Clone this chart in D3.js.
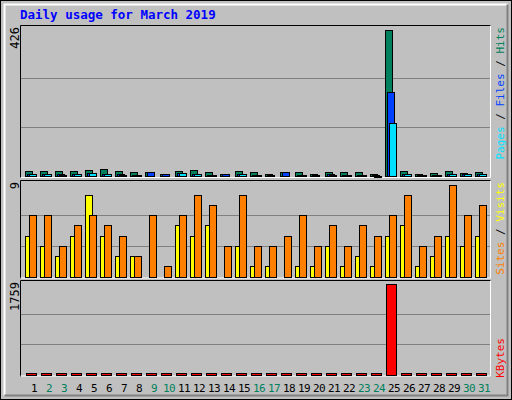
<!DOCTYPE html><html><head><meta charset="utf-8">
<script src="https://cdn.jsdelivr.net/npm/d3@7"></script>
<style>body{margin:0;background:#fff}</style></head><body>
<script>
const days = d3.range(1,32);
const weekend = [2,3,9,10,16,17,23,24,30,31];
const hits  = [15,15,15,15,18,20,15,12,12,7,15,17,12,7,15,12,7,12,12,7,12,12,12,7,426,15,7,9,15,9,12];
const files = [6,6,5,6,9,7,5,4,12,7,9,6,4,6,6,4,4,12,4,4,5,4,4,3,244,5,3,4,6,5,5];
const pages = [6,6,3,6,9,6,2,3,0,0,9,6,2,0,5,2,0,0,2,0,3,2,2,1,153,5,2,2,5,5,5];
const visits = [4,3,2,4,8,4,2,2,0,0,5,4,5,0,3,1,1,0,1,1,3,1,2,1,4,5,1,2,4,3,4];
const sites  = [6,6,3,5,6,5,4,2,6,1,6,8,7,3,8,3,3,4,6,3,5,3,5,4,6,8,3,4,9,6,7];
const kbytes = [20,20,20,20,20,20,20,20,20,20,20,20,20,20,20,20,20,20,20,20,20,20,20,20,1759,20,20,20,20,20,20];
const maxTop=426, maxMid=9, maxBot=1759;

const W=512,H=400;
const svg=d3.select("body").append("svg").attr("width",W).attr("height",H);
svg.append("rect").attr("width",W).attr("height",H).attr("fill","#c0c0c0");
svg.append("rect").attr("x",0.5).attr("y",0.5).attr("width",W-1).attr("height",H-1).attr("fill","none").attr("stroke","#000");
svg.append("path").attr("d",`M4.5,${H-4.5}V4.5H${W-4.5}`).attr("fill","none").attr("stroke","#fff").attr("stroke-width",2);
svg.append("path").attr("d",`M4.5,${H-4.5}H${W-4.5}V4.5`).attr("fill","none").attr("stroke","#808080").attr("stroke-width",2);

svg.append("text").attr("x",20).attr("y",19).text("Daily usage for March 2019")
  .attr("font-family","DejaVu Sans Mono").attr("font-weight","bold").attr("font-size",12.5).attr("fill","#0000ff");

const x = d3.scaleLinear().domain([1,31]).range([25,475]);
const mono="DejaVu Sans Mono";

function panel(top,base,maxY,max,label){
  const y=d3.scaleLinear().domain([0,max]).range([base,maxY]);
  [1/3,2/3].forEach(f=>svg.append("line").attr("x1",21).attr("x2",490).attr("y1",Math.round(y(max*f))+0.5).attr("y2",Math.round(y(max*f))+0.5).attr("stroke","#808080"));
  svg.append("path").attr("d",`M20.5,${base+2}V${top+0.5}H491`).attr("fill","none").attr("stroke","#000");
  svg.append("path").attr("d",`M20.5,${base+1.5}H490.5V${top+0.5}`).attr("fill","none").attr("stroke","#fff");
  svg.append("text").attr("transform",`translate(19,${top+2}) rotate(-90)`).attr("text-anchor","end")
    .attr("font-family",mono).attr("font-size",12).text(label);
  return y;
}
function bars(y,data,off,w,color){
  svg.append("g").selectAll("rect").data(data.map((v,i)=>({v,i})).filter(d=>d.v>0)).join("rect")
   .attr("x",d=>Math.round(x(days[d.i]))+off+0.5).attr("width",w)
   .attr("y",d=>Math.round(y(d.v))+0.5).attr("height",d=>Math.max(1,Math.round(y(0))-Math.round(y(d.v))))
   .attr("fill",color).attr("stroke","#000");
}
function rlabel(yTop,parts){
  const t=svg.append("text").attr("transform",`translate(504,${yTop}) rotate(-90)`).attr("text-anchor","end")
   .attr("font-family",mono).attr("font-size",11);
  parts.forEach(p=>t.append("tspan").attr("fill",p[1]).text(p[0]));
}
const yT=panel(25,176,29.5,maxTop,"426");
bars(yT,hits,0,7,"#00805c"); bars(yT,files,2,7,"#0040ff"); bars(yT,pages,4,7,"#00e0ff");
rlabel(27,[["Pages","#00e0ff"],[" / ","#000"],["Files","#0040ff"],[" / ","#000"],["Hits","#00805c"]]);

const yM=panel(180,276.5,184.5,maxMid,"9");
bars(yM,visits,0,7,"#ffff00"); bars(yM,sites,4,7,"#ff8000");
rlabel(182,[["Sites","#ff8000"],[" / ","#000"],["Visits","#ffff00"]]);

const yB=panel(280,374.5,284,maxBot,"1759");
bars(yB,kbytes,1,10,"#ff0000");
rlabel(338,[["KBytes","#ff0000"]]);

svg.append("g").selectAll("text").data(days).join("text")
  .attr("x",d=>x(d)+9).attr("y",392).attr("text-anchor","middle")
  .attr("font-family",mono).attr("font-size",11).attr("letter-spacing",-0.5)
  .attr("fill",d=>weekend.includes(d)?"#00805c":"#000").text(d=>d);
</script></body></html>
